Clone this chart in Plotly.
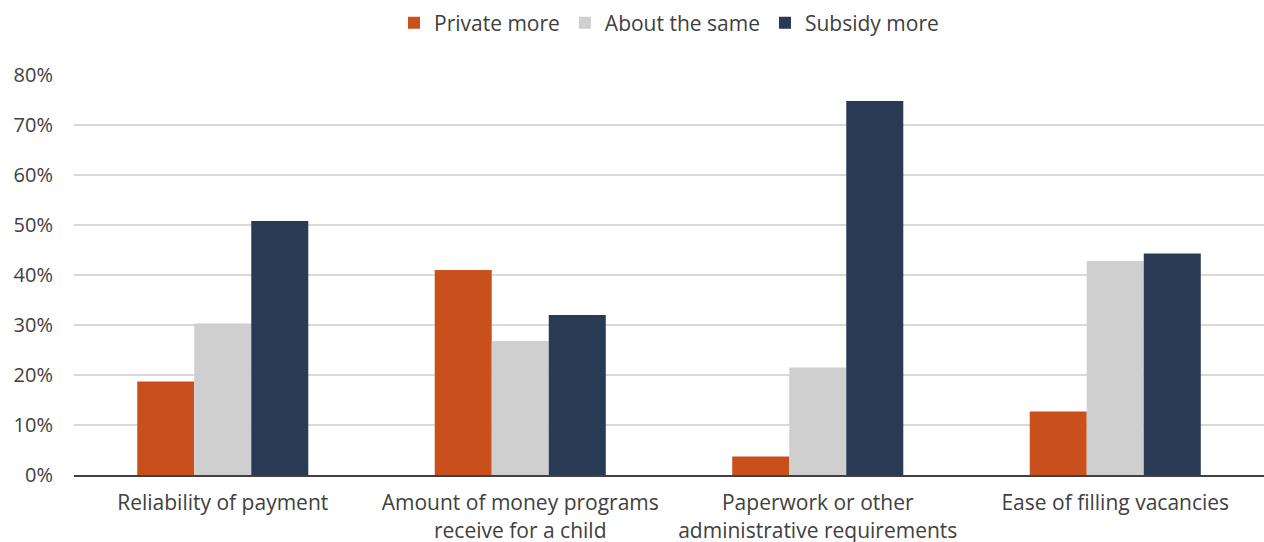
import plotly.graph_objects as go

categories = [
    "Reliability of payment",
    "Amount of money programs<br>receive for a child",
    "Paperwork or other<br>administrative requirements",
    "Ease of filling vacancies",
]
private_more = [18.7, 41.0, 3.7, 12.7]
about_same = [30.3, 26.8, 21.5, 42.8]
subsidy_more = [50.8, 32.0, 74.8, 44.3]

series = [
    ("Private more", private_more, "#C9501C"),
    ("About the same", about_same, "#CFCFCF"),
    ("Subsidy more", subsidy_more, "#293A55"),
]

text_color = "#404040"
font_family = "'Open Sans', sans-serif"

fig = go.Figure()
for name, values, color in series:
    fig.add_trace(go.Bar(
        name=name,
        x=categories,
        y=values,
        marker=dict(color=color, line=dict(width=0)),
    ))

fig.update_layout(
    width=1264,
    height=542,
    barmode="group",
    bargap=0.425,
    bargroupgap=0,
    plot_bgcolor="white",
    paper_bgcolor="white",
    font=dict(family=font_family, size=21, color=text_color),
    margin=dict(l=74, r=0, t=75, b=67),
    legend=dict(
        orientation="h",
        x=0.5,
        xanchor="center",
        y=0.995,
        yanchor="top",
        yref="container",
        font=dict(size=21, color=text_color),
        itemwidth=30,
        traceorder="normal",
    ),
    xaxis=dict(
        automargin=False,
        showgrid=False,
        showline=True,
        linecolor="#404040",
        linewidth=2,
        ticks="",
        tickfont=dict(size=21, color=text_color),
        ticklabelstandoff=8,
    ),
    yaxis=dict(
        automargin=False,
        range=[0, 80],
        dtick=10,
        ticksuffix="%",
        showgrid=True,
        gridcolor="#D9D9D9",
        gridwidth=2,
        zeroline=False,
        showline=False,
        ticks="",
        tickfont=dict(size=20, color=text_color),
        ticklabelstandoff=20,
    ),
)

fig.write_html("out.html")
